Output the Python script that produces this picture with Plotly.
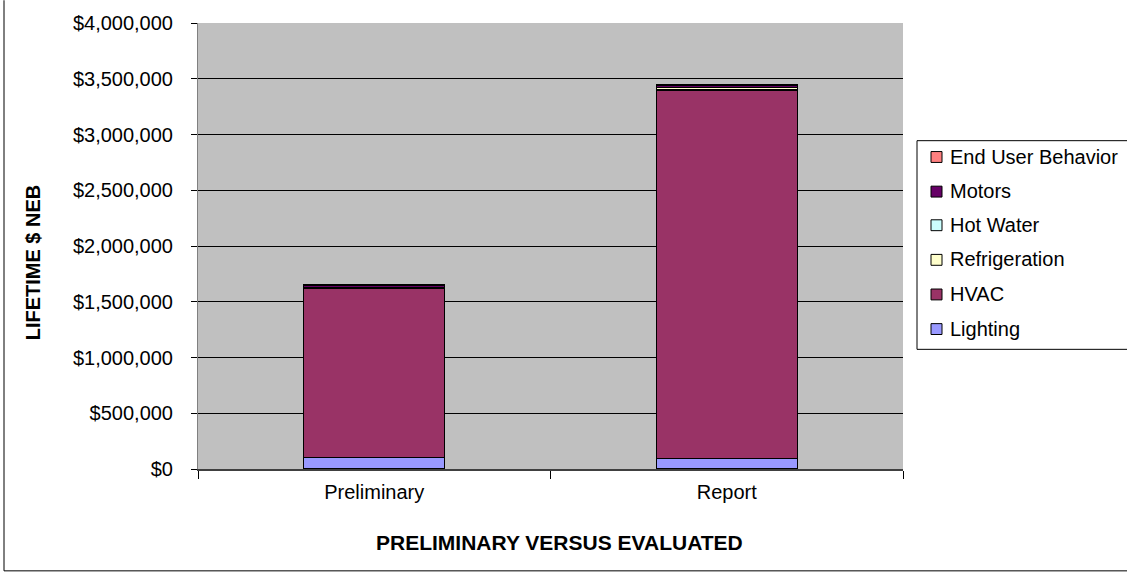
import plotly.graph_objects as go

# Lifetime non-energy benefits by end use
categories = ["Preliminary", "Report"]
lighting = [105000, 95000]
hvac = [1515000, 3305000]
refrigeration = [5000, 20000]
hot_water = [0, 0]
motors = [25000, 25000]
end_user_behavior = [0, 0]

series_names = ["Lighting", "HVAC", "Refrigeration", "Hot Water", "Motors", "End User Behavior"]
series_values = [lighting, hvac, refrigeration, hot_water, motors, end_user_behavior]
series_colors = ["#9999FF", "#993366", "#FFFFCC", "#CCFFFF", "#660066", "#FF8080"]

y_ticks = [0, 500000, 1000000, 1500000, 2000000, 2500000, 3000000, 3500000, 4000000]
y_tick_text = ["$" + format(v, ",") for v in y_ticks]

W, H = 1127, 575
L, R, T, B = 198, 903, 18, 469
FONT = "Arial, Liberation Sans, sans-serif"
FS = 20


def px(x):
    return (x - L) / (R - L)


def py(y):
    return (B - y) / (B - T)


fig = go.Figure()
for name, vals, col in zip(series_names, series_values, series_colors):
    fig.add_trace(go.Bar(
        x=categories, y=vals, name=name,
        marker=dict(color=col, line=dict(color="black", width=1.3)),
        showlegend=False,
    ))

shapes = []
annotations = []

# legend box drawn by hand
shapes.append(dict(type="rect", xref="paper", yref="paper",
                   x0=px(917), x1=px(1140), y0=py(348), y1=py(137),
                   line=dict(color="black", width=1), fillcolor="white", layer="above"))
leg_y = [153, 188, 222, 257, 292, 327]
for i, (name, col) in enumerate(zip(series_names[::-1], series_colors[::-1])):
    yc = leg_y[i]
    shapes.append(dict(type="rect", xref="paper", yref="paper",
                       x0=px(931), x1=px(942), y0=py(yc + 6), y1=py(yc - 5),
                       line=dict(color="black", width=1), fillcolor=col, layer="above"))
    annotations.append(dict(text=name, xref="paper", yref="paper",
                            x=px(948), y=py(yc), xanchor="left", yanchor="middle",
                            showarrow=False, font=dict(family=FONT, size=FS, color="black")))

# axis titles
annotations.append(dict(text="<b>PRELIMINARY VERSUS EVALUATED</b>", xref="paper", yref="paper",
                        x=px(559), y=py(543), xanchor="center", yanchor="middle",
                        showarrow=False, font=dict(family=FONT, size=21, color="black")))
annotations.append(dict(text="<b>LIFETIME $ NEB</b>", xref="paper", yref="paper",
                        x=px(33), y=py(260), xanchor="center", yanchor="middle", textangle=-90,
                        showarrow=False, font=dict(family=FONT, size=FS, color="black")))

# chart frame
shapes.append(dict(type="line", xref="paper", yref="paper",
                   x0=px(4), x1=px(4), y0=py(-5), y1=py(572), line=dict(color="black", width=1)))
shapes.append(dict(type="line", xref="paper", yref="paper",
                   x0=px(4), x1=px(1140), y0=py(572), y1=py(572), line=dict(color="black", width=1)))

fig.update_layout(
    width=W, height=H, autosize=False,
    margin=dict(l=L, r=W - R, t=T, b=H - B, pad=0),
    paper_bgcolor="white", plot_bgcolor="#C0C0C0",
    barmode="stack", bargap=0.6,
    showlegend=False,
    font=dict(family=FONT, size=FS, color="black"),
    shapes=shapes, annotations=annotations,
    xaxis=dict(
        type="category", tickson="boundaries", ticks="outside", ticklen=8,
        tickcolor="black", showline=True, linecolor="#404040", linewidth=2,
        showgrid=False, tickfont=dict(size=FS), ticklabelstandoff=4,
    ),
    yaxis=dict(
        range=[0, 4000000], tickvals=y_ticks, ticktext=y_tick_text,
        ticks="outside", ticklen=6, tickcolor="black",
        showline=True, linecolor="#808080", linewidth=1,
        showgrid=True, gridcolor="black", gridwidth=1, zeroline=False,
        tickfont=dict(size=FS), ticklabelstandoff=14,
    ),
)

fig.write_html("out.html")
